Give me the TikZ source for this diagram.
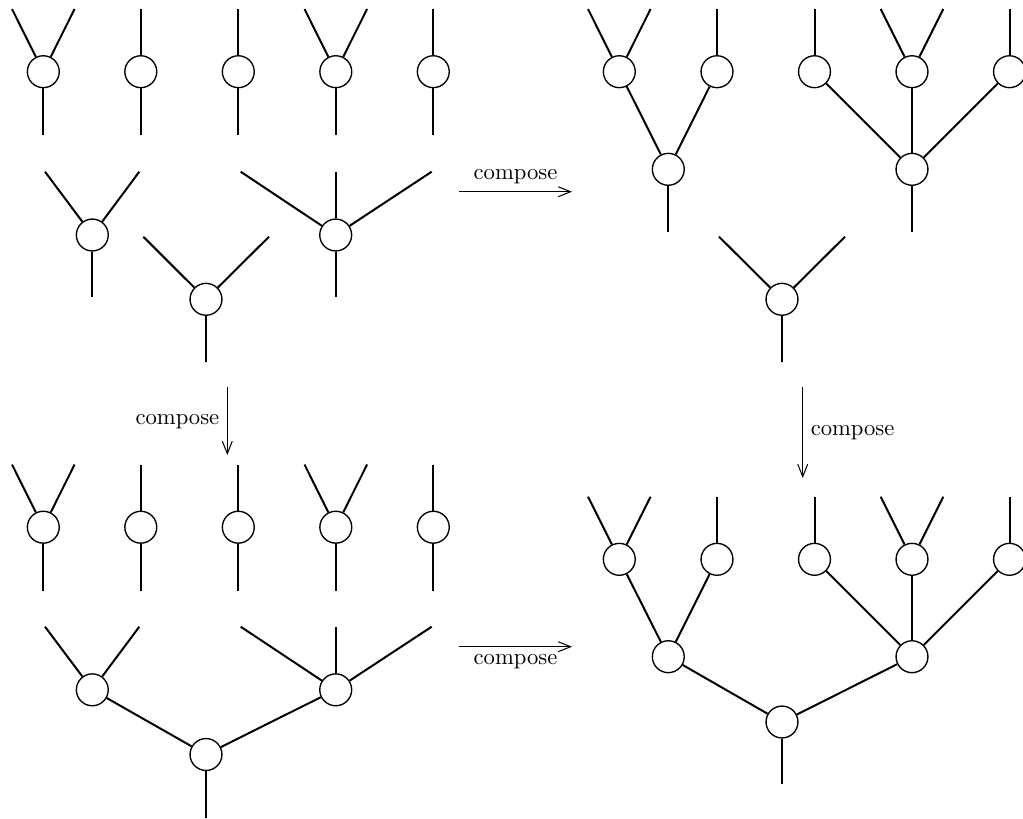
\documentclass[tikz,border=0pt]{standalone}
\usetikzlibrary{arrows.meta}
\tikzset{
  vtx/.style={circle,draw,fill=white,line width=0.6pt,minimum size=14.1pt,inner sep=0pt},
  edge/.style={line width=0.88pt},
  arr/.style={-{Straight Barb[length=5.5pt,width=4.4pt,line width=0.45pt]},line width=0.45pt},
}
\begin{document}
\begin{tikzpicture}[x=0.442pt,y=-0.442pt]
\useasboundingbox (0,0) rectangle (1023,818);

% ===== top-left and bottom-left: five leaf corollas =====
\foreach \q/\dy/\tp/\bt in {tl/0/9/135, bl/455.5/464.5/590.5} {
  \foreach \i/\x in {1/43.3,2/140.8,3/238.3,4/335.8,5/433.3} {
    \node[vtx] (\q\i) at (\x,71.7+\dy) {};
    \coordinate (\q\i b) at (\x,\bt);
    \draw[edge] (\q\i) -- (\q\i b);
  }
  \foreach \i/\x in {2/140.8,3/238.3,5/433.3} {
    \coordinate (\q\i t) at (\x,\tp);
    \draw[edge] (\q\i) -- (\q\i t);
  }
  \foreach \i/\x in {1/43.3,4/335.8} {
    \coordinate (\q\i l) at (\x-31.3,\tp);
    \coordinate (\q\i r) at (\x+31.3,\tp);
    \draw[edge] (\q\i) -- (\q\i l);
    \draw[edge] (\q\i) -- (\q\i r);
  }
}

% ===== top-left row 2 =====
\node[vtx] (tA) at (92.3,235) {};
\coordinate (tAl) at (45,171.7);
\coordinate (tAr) at (139.3,171.7);
\coordinate (tAb) at (92.3,296.7);
\draw[edge] (tA) -- (tAl);
\draw[edge] (tA) -- (tAr);
\draw[edge] (tA) -- (tAb);

\node[vtx] (tC) at (335.7,235) {};
\coordinate (tCl) at (240.7,171.7);
\coordinate (tCm) at (335.7,171.7);
\coordinate (tCr) at (431.7,171.7);
\coordinate (tCb) at (335.7,296.7);
\draw[edge] (tC) -- (tCl);
\draw[edge] (tC) -- (tCm);
\draw[edge] (tC) -- (tCr);
\draw[edge] (tC) -- (tCb);

\node[vtx] (tB) at (206,299.3) {};
\coordinate (tBl) at (143.3,236.7);
\coordinate (tBr) at (269,236.7);
\coordinate (tBb) at (206,362.3);
\draw[edge] (tB) -- (tBl);
\draw[edge] (tB) -- (tBr);
\draw[edge] (tB) -- (tBb);

% ===== bottom-left row 2 and root =====
\node[vtx] (bA) at (92.3,689.8) {};
\coordinate (bAl) at (45,626.7);
\coordinate (bAr) at (139.3,626.7);
\draw[edge] (bA) -- (bAl);
\draw[edge] (bA) -- (bAr);

\node[vtx] (bC) at (335.7,689.8) {};
\coordinate (bCl) at (240.7,626.7);
\coordinate (bCm) at (335.7,626.7);
\coordinate (bCr) at (431.7,626.7);
\draw[edge] (bC) -- (bCl);
\draw[edge] (bC) -- (bCm);
\draw[edge] (bC) -- (bCr);

\node[vtx] (bB) at (206,754.5) {};
\coordinate (bBb) at (206,818);
\draw[edge] (bB) -- (bA);
\draw[edge] (bB) -- (bC);
\draw[edge] (bB) -- (bBb);

% ===== top-right and bottom-right: leaves + two roots =====
\foreach \q/\ly/\tp/\ry in {tr/71.7/9/169.3, br/559.3/496.7/656.7} {
  \foreach \i/\x in {1/619.3,2/717,3/814.5,4/912,5/1009.5} {
    \node[vtx] (\q\i) at (\x,\ly) {};
  }
  \foreach \i/\x in {2/717,3/814.5,5/1009.5} {
    \coordinate (\q\i t) at (\x,\tp);
    \draw[edge] (\q\i) -- (\q\i t);
  }
  \foreach \i/\x in {1/619.3,4/912} {
    \coordinate (\q\i l) at (\x-31.3,\tp);
    \coordinate (\q\i r) at (\x+31.3,\tp);
    \draw[edge] (\q\i) -- (\q\i l);
    \draw[edge] (\q\i) -- (\q\i r);
  }
  \node[vtx] (\q R1) at (668.3,\ry) {};
  \node[vtx] (\q R2) at (912,\ry) {};
  \draw[edge] (\q R1) -- (\q1);
  \draw[edge] (\q R1) -- (\q2);
  \draw[edge] (\q R2) -- (\q3);
  \draw[edge] (\q R2) -- (\q4);
  \draw[edge] (\q R2) -- (\q5);
}
\coordinate (trR1b) at (668.3,232.3);
\coordinate (trR2b) at (912,232.3);
\draw[edge] (trR1) -- (trR1b);
\draw[edge] (trR2) -- (trR2b);

\node[vtx] (trL) at (782,299.3) {};
\coordinate (trLl) at (719,236.7);
\coordinate (trLr) at (845,236.7);
\coordinate (trLb) at (782,362.3);
\draw[edge] (trL) -- (trLl);
\draw[edge] (trL) -- (trLr);
\draw[edge] (trL) -- (trLb);

\node[vtx] (brL) at (782,722) {};
\coordinate (brLb) at (782,784.3);
\draw[edge] (brL) -- (brR1);
\draw[edge] (brL) -- (brR2);
\draw[edge] (brL) -- (brLb);

% ===== compose arrows =====
\coordinate (h1s) at (459,191.7);
\coordinate (h1e) at (572,191.7);
\draw[arr] (h1s) -- node[above] {compose} (h1e);

\coordinate (h2s) at (459,646.7);
\coordinate (h2e) at (572,646.7);
\draw[arr] (h2s) -- node[below] {compose} (h2e);

\coordinate (v1s) at (227.3,387.3);
\coordinate (v1e) at (227.3,455);
\draw[arr] (v1s) -- node[left] {compose} (v1e);

\coordinate (v2s) at (802.7,387.3);
\coordinate (v2e) at (802.7,478);
\draw[arr] (v2s) -- node[right] {compose} (v2e);
\end{tikzpicture}
\end{document}
